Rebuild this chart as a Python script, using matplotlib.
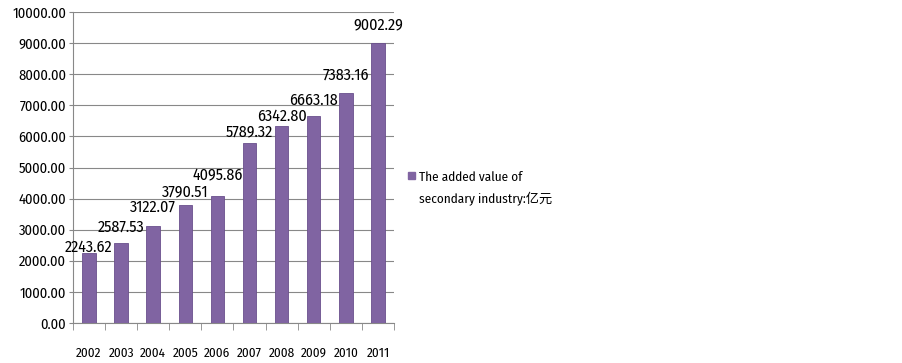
import matplotlib

matplotlib.use("Agg")

import matplotlib.pyplot as plt
from matplotlib.patches import Rectangle
import numpy as np

years = ["2002", "2003", "2004", "2005", "2006", "2007", "2008", "2009", "2010", "2011"]
values = [2243.62, 2587.53, 3122.07, 3790.51, 4095.86, 5789.32, 6342.80, 6663.18, 7383.16, 9002.29]
y_ticks = [0, 1000, 2000, 3000, 4000, 5000, 6000, 7000, 8000, 9000, 10000]
legend_lines = ["The added value of", "secondary industry:亿元"]

# label nudges above each bar (points), as placed in the source chart
label_lift = [4.3, 11.5, 13.7, 10, 14.4, 8, 6.5, 11, 13, 13]

plt.rcParams["font.family"] = ["Fira Sans Condensed", "Noto Sans CJK SC", "DejaVu Sans"]

bar_color = "#8064A2"
grid_color = "#888888"

fig = plt.figure(figsize=(9.03, 3.63), dpi=100)
ax = fig.add_axes([0.0808, 0.110, 0.3555, 0.857])

x = np.arange(len(years))
ax.bar(x, values, width=0.42, color=bar_color, edgecolor="#6a4f8c", linewidth=0.6, zorder=3)

for xi, v, dy in zip(x, values, label_lift):
    ax.annotate(f"{v:.2f}", (xi, v), xytext=(0, dy), textcoords="offset points",
                ha="center", va="center", fontsize=11.5, zorder=4)

ax.set_xlim(-0.5, len(years) - 0.5)
ax.set_ylim(0, 10000)
ax.set_yticks(y_ticks)
ax.set_yticklabels([f"{t:.2f}" for t in y_ticks], fontsize=10.5)
ax.yaxis.grid(True, color=grid_color, linewidth=0.8, zorder=0)
ax.tick_params(axis="y", length=3, color=grid_color, pad=2)

ax.set_xticks(x)
ax.set_xticklabels(years, fontsize=9.5)
ax.tick_params(axis="x", which="major", length=0, pad=17)
ax.set_xticks(np.arange(len(years) + 1) - 0.5, minor=True)
ax.tick_params(axis="x", which="minor", length=5, color=grid_color)

for side in ["top", "right"]:
    ax.spines[side].set_visible(False)
ax.spines["left"].set_color(grid_color)
ax.spines["bottom"].set_color(grid_color)

# legend drawn by hand: square next to the first line, second line below
fig.patches.append(Rectangle((0.452, 0.508), 0.0075, 0.019, transform=fig.transFigure,
                             color=bar_color, figure=fig))
fig.text(0.464, 0.512, legend_lines[0], ha="left", va="center", fontsize=9.5)
fig.text(0.464, 0.452, legend_lines[1], ha="left", va="center", fontsize=9.5)

fig.savefig("out.png", dpi=100)
